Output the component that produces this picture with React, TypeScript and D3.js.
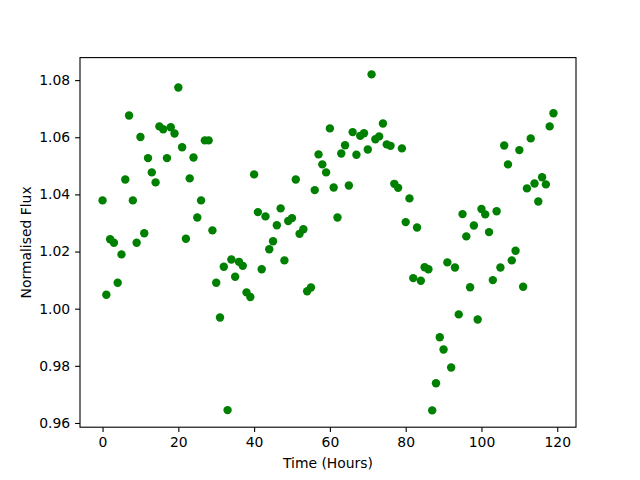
import React, { useEffect, useRef } from 'react';
import * as d3 from 'd3';

// Hours 0..119 (one reading per hour)
const hours = d3.range(0, 120);

// Normalised flux, one per hour
const flux = [
  1.0379, 1.0049, 1.0243, 1.0231, 1.0091, 1.0190, 1.0452, 1.0676, 1.0379, 1.0231,
  1.0601, 1.0264, 1.0527, 1.0477, 1.0442, 1.0638, 1.0628, 1.0527, 1.0635, 1.0613,
  1.0774, 1.0565, 1.0245, 1.0456, 1.0529, 1.0319, 1.0379, 1.0589, 1.0589, 1.0274,
  1.0091, 0.9969, 1.0147, 0.9645, 1.0172, 1.0112, 1.0164, 1.0150, 1.0057, 1.0041,
  1.0470, 1.0338, 1.0138, 1.0323, 1.0208, 1.0236, 1.0292, 1.0351, 1.0169, 1.0307,
  1.0317, 1.0452, 1.0262, 1.0278, 1.0061, 1.0074, 1.0415, 1.0540, 1.0505, 1.0477,
  1.0631, 1.0424, 1.0319, 1.0543, 1.0572, 1.0431, 1.0618, 1.0539, 1.0605, 1.0614,
  1.0557, 1.0820, 1.0593, 1.0603, 1.0648, 1.0575, 1.0570, 1.0437, 1.0423, 1.0561,
  1.0303, 1.0386, 1.0107, 1.0284, 1.0098, 1.0145, 1.0138, 0.9644, 0.9739, 0.9900,
  0.9857, 1.0162, 0.9794, 1.0144, 0.9980, 1.0331, 1.0253, 1.0075, 1.0291, 0.9962,
  1.0349, 1.0330, 1.0268, 1.0100, 1.0341, 1.0144, 1.0571, 1.0505, 1.0169, 1.0203,
  1.0555, 1.0077, 1.0421, 1.0596, 1.0438, 1.0375, 1.0460, 1.0435, 1.0638, 1.0684,
];

const xTicks = [0, 20, 40, 60, 80, 100, 120];
const yTicks = [0.96, 0.98, 1.0, 1.02, 1.04, 1.06, 1.08];

const App = () => {
  const ref = useRef<SVGSVGElement>(null);

  useEffect(() => {
    const svg = d3.select(ref.current);
    svg.selectAll('*').remove();

    const width = 640;
    const height = 480;
    const margin = { top: 57.6, right: 64, bottom: 52.8, left: 80 };
    const font = 'DejaVu Sans, sans-serif';

    // matplotlib-style 5% padding around the data
    const pad = (lo: number, hi: number) => [lo - (hi - lo) * 0.05, hi + (hi - lo) * 0.05];
    const [xMin, xMax] = pad(d3.min(hours)!, d3.max(hours)!);
    const [yMin, yMax] = pad(d3.min(flux)!, d3.max(flux)!);

    const x = d3.scaleLinear()
      .domain([xMin, xMax])
      .range([margin.left, width - margin.right]);

    const y = d3.scaleLinear()
      .domain([yMin, yMax])
      .range([height - margin.bottom, margin.top]);

    svg.append('rect')
      .attr('width', width)
      .attr('height', height)
      .attr('fill', 'white');

    // Points
    svg.append('g')
      .selectAll('circle')
      .data(hours)
      .enter().append('circle')
      .attr('cx', (d) => x(d))
      .attr('cy', (d, i) => y(flux[i]))
      .attr('r', 4.2)
      .attr('fill', '#008000');

    // Axes
    const xAxis = svg.append('g')
      .attr('transform', `translate(0,${height - margin.bottom})`)
      .call(d3.axisBottom(x)
        .tickValues(xTicks)
        .tickSize(4.9)
        .tickPadding(4.9)
        .tickFormat(d3.format('d')));

    const yAxis = svg.append('g')
      .attr('transform', `translate(${margin.left},0)`)
      .call(d3.axisLeft(y)
        .tickValues(yTicks)
        .tickSize(4.9)
        .tickPadding(4.9)
        .tickFormat(d3.format('.2f')));

    [xAxis, yAxis].forEach((g) => {
      g.select('path.domain').remove();
      g.selectAll('line').attr('stroke', 'black').attr('stroke-width', 1.1);
      g.selectAll('text')
        .attr('fill', 'black')
        .attr('font-family', font)
        .attr('font-size', '13.9px');
    });

    // Frame (four spines)
    svg.append('rect')
      .attr('x', margin.left)
      .attr('y', margin.top)
      .attr('width', width - margin.left - margin.right)
      .attr('height', height - margin.top - margin.bottom)
      .attr('fill', 'none')
      .attr('stroke', 'black')
      .attr('stroke-width', 1.1);

    // Axis labels
    svg.append('text')
      .attr('x', (margin.left + width - margin.right) / 2)
      .attr('y', 468)
      .attr('text-anchor', 'middle')
      .attr('font-family', font)
      .attr('font-size', '13.9px')
      .text('Time (Hours)');

    svg.append('text')
      .attr('transform', `translate(31,${(margin.top + height - margin.bottom) / 2}) rotate(-90)`)
      .attr('text-anchor', 'middle')
      .attr('font-family', font)
      .attr('font-size', '13.9px')
      .text('Normalised Flux');
  }, []);

  return (
    <svg ref={ref} width="640" height="480" style={{ position: 'absolute', left: 0, top: 0 }}></svg>
  );
};

export default App;
